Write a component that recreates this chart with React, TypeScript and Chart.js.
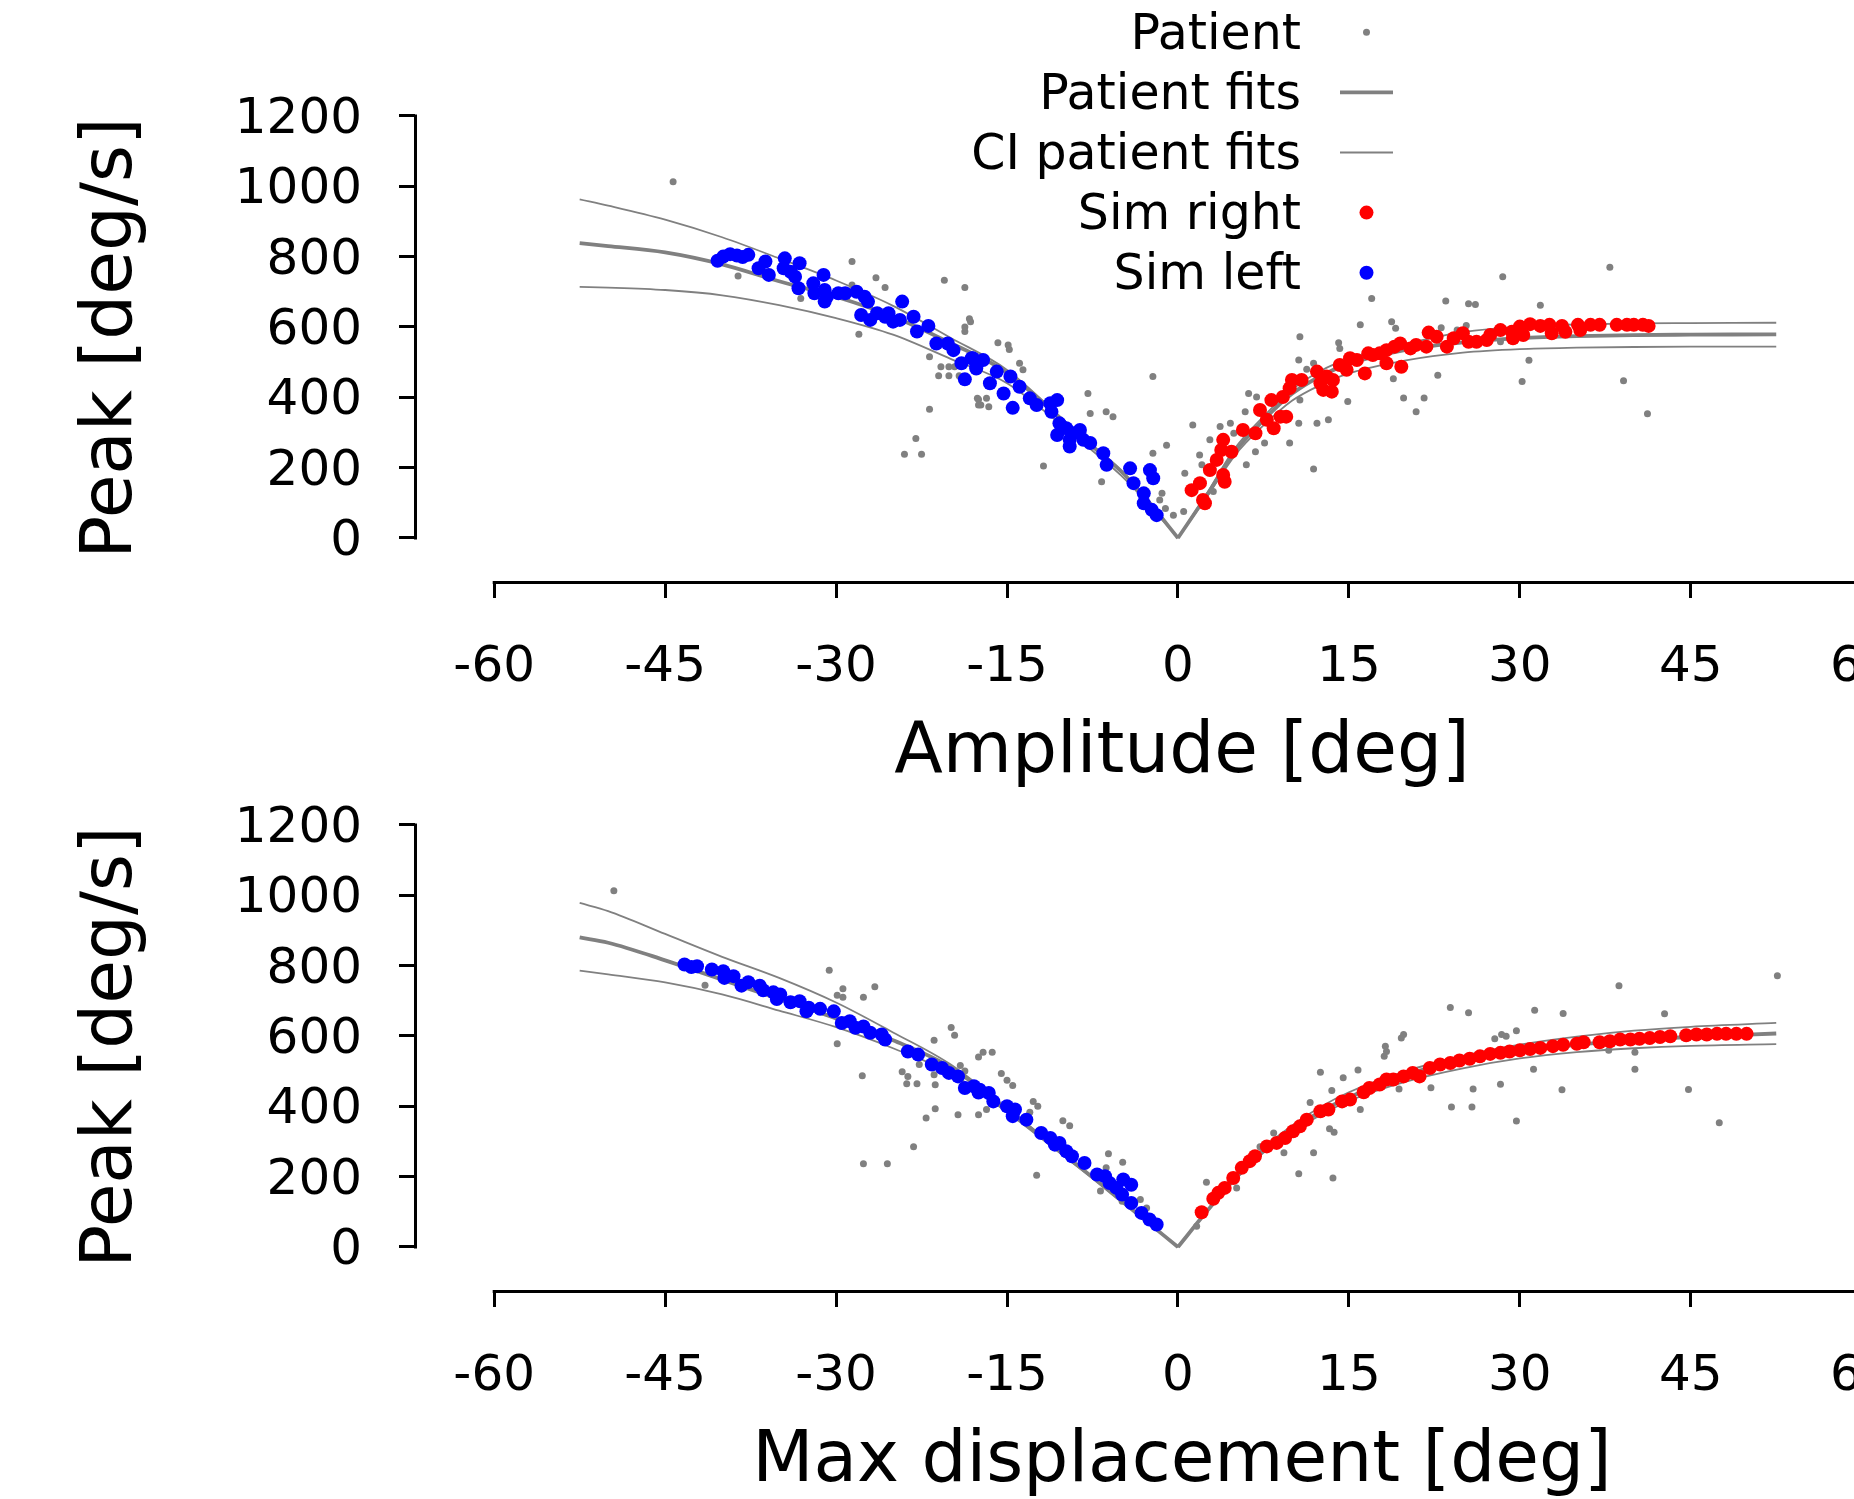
import React, { useEffect, useRef } from 'react';
import { Chart, registerables } from 'chart.js';

Chart.register(...registerables);

// ---------------- tick labels / axis text ----------------
const X_TICKS = [-60, -45, -30, -15, 0, 15, 30, 45, 60];
const Y_TICKS = [0, 200, 400, 600, 800, 1000, 1200];
const Y_TITLE = 'Peak [deg/s]';
const TOP_X_TITLE = 'Amplitude [deg]';
const BOTTOM_X_TITLE = 'Max displacement [deg]';
const LEGEND_LABELS = ['Patient', 'Patient fits', 'CI patient fits', 'Sim right', 'Sim left'];

// ---------------- fit curves ----------------
const FIT_X_LEFT = [-52.5, -50, -45, -40, -35, -30, -25, -20, -15, -10, -7.5, -5, -2.5, 0];
const FIT_X_RIGHT = [0, 2.5, 5, 7.5, 10, 12.5, 15, 20, 25, 30, 35, 40, 45, 52.5];

const AMP_FIT_LEFT = [838, 830, 812, 778, 730, 686, 630, 555, 470, 330, 260, 190, 100, 0];
const AMP_FIT_LEFT_UPPER = [963, 945, 905, 855, 795, 732, 660, 570, 478, 335, 262, 192, 100, 0];
const AMP_FIT_LEFT_LOWER = [714, 712, 705, 690, 662, 625, 578, 510, 440, 315, 248, 178, 93, 0];
const AMP_FIT_RIGHT = [0, 120, 245, 335, 410, 460, 495, 535, 556, 568, 574, 577, 578, 579];
const AMP_FIT_RIGHT_UPPER = [0, 125, 255, 345, 422, 475, 510, 552, 585, 601, 607, 610, 611, 612];
const AMP_FIT_RIGHT_LOWER = [0, 115, 235, 320, 390, 435, 468, 505, 527, 537, 541, 543, 544, 544];

const DISP_FIT_LEFT = [880, 865, 815, 760, 705, 650, 588, 512, 390, 262, 198, 132, 66, 0];
const DISP_FIT_LEFT_UPPER = [978, 955, 890, 825, 765, 695, 610, 520, 395, 265, 200, 133, 67, 0];
const DISP_FIT_LEFT_LOWER = [786, 775, 752, 718, 672, 625, 565, 495, 383, 258, 195, 130, 65, 0];
const DISP_FIT_RIGHT = [0, 100, 195, 275, 335, 385, 425, 490, 530, 556, 575, 588, 597, 607];
const DISP_FIT_RIGHT_UPPER = [0, 102, 200, 282, 345, 398, 440, 500, 543, 575, 598, 615, 626, 637];
const DISP_FIT_RIGHT_LOWER = [0, 98, 190, 268, 328, 375, 415, 470, 508, 536, 554, 565, 572, 577];

// ---------------- scatter series: [deg, deg/s] ----------------
const AMP_PATIENT = [
  [-44.3, 1013], [-38.6, 745], [-33.1, 681], [-28.6, 786], [-28.6, 719], [-28.0, 579], [-26.5, 740], [-25.7, 712],
  [-24.0, 238], [-23.0, 283], [-22.5, 238], [-21.8, 515], [-21.8, 366], [-21.0, 461], [-20.8, 487], [-20.5, 733],
  [-20.1, 487], [-20.1, 461], [-19.6, 487], [-19.2, 461], [-18.7, 712], [-18.7, 600], [-18.7, 587], [-18.3, 623],
  [-18.2, 615], [-17.6, 397], [-17.5, 394], [-17.5, 378], [-17.3, 378], [-16.8, 397], [-16.6, 373], [-15.8, 555],
  [-14.9, 549], [-14.8, 536], [-13.9, 497], [-13.6, 478], [-11.8, 205], [-7.9, 411], [-7.7, 354], [-6.7, 160],
  [-6.3, 359], [-5.7, 345], [-2.2, 459], [-2.2, 241], [-1.6, 108], [-1.4, 127], [-1.1, 84], [-1.0, 264],
  [-0.4, 65], [0.5, 75], [0.6, 184], [1.3, 321], [1.9, 236], [2.1, 208], [2.8, 279], [3.1, 132], [3.7, 317],
  [4.6, 326], [4.9, 298], [5.9, 359], [6.0, 208], [6.2, 411], [6.8, 245], [6.9, 401], [7.6, 270], [9.8, 270],
  [10.6, 326], [10.6, 506], [10.7, 392], [10.7, 572], [11.3, 480], [11.9, 497], [11.9, 196], [12.2, 326],
  [13.2, 336], [14.1, 555], [14.2, 539], [14.9, 388], [16.0, 606], [17.0, 681], [18.75, 615], [19.1, 596],
  [18.9, 453], [19.8, 398], [20.9, 359], [21.6, 398], [22.8, 463], [23.1, 598], [23.5, 674], [24.5, 591],
  [25.3, 604], [25.5, 666], [26.1, 664], [28.3, 558], [28.5, 743], [30.2, 445], [30.8, 505], [31.8, 662],
  [37.9, 770], [39.1, 447], [41.2, 353],
];

const AMP_SIM_LEFT = [
  [-40.4, 788], [-39.9, 800], [-39.3, 807], [-38.7, 803], [-38.2, 799], [-37.7, 805], [-36.8, 767], [-36.2, 786],
  [-35.9, 748], [-34.5, 795], [-34.6, 767], [-34.0, 757], [-33.2, 781], [-33.6, 743], [-33.3, 710], [-32.0, 724],
  [-31.9, 696], [-31.1, 748], [-31.0, 705], [-31.0, 672], [-30.8, 686], [-29.8, 696], [-29.2, 696], [-28.2, 700],
  [-27.5, 686], [-27.2, 672], [-27.8, 634], [-27.0, 620], [-26.4, 639], [-25.7, 629], [-25.4, 639], [-25.0, 615],
  [-24.4, 620], [-24.2, 672], [-23.2, 629], [-22.9, 587], [-21.9, 603], [-21.2, 553], [-20.2, 553], [-19.7, 534],
  [-19.0, 497], [-18.7, 451], [-18.1, 511], [-17.7, 487], [-18.0, 511], [-17.1, 506], [-17.7, 482], [-16.5, 440],
  [-15.9, 473], [-15.3, 411], [-14.7, 459], [-14.5, 370], [-13.9, 430], [-13.0, 397], [-12.4, 378], [-11.2, 383],
  [-10.6, 392], [-11.1, 359], [-10.4, 326], [-9.8, 312], [-9.2, 298], [-8.6, 307], [-9.5, 279], [-8.3, 279],
  [-7.7, 270], [-10.6, 293], [-9.5, 260], [-6.55, 241], [-6.26, 208], [-4.2, 198], [-3.9, 156], [-3.0, 127],
  [-2.46, 193], [-2.17, 170], [-3.0, 99], [-2.3, 80], [-1.87, 65],
];

const AMP_SIM_RIGHT = [
  [1.2, 136], [1.93, 156], [2.2, 108], [2.37, 99], [2.8, 193], [3.4, 222], [3.8, 250], [3.97, 279], [4.1, 160],
  [3.97, 179], [4.7, 245], [5.7, 307], [6.8, 298], [7.2, 364], [7.8, 336], [8.2, 392], [8.4, 312], [9.0, 345],
  [9.5, 345], [9.2, 401], [9.8, 426], [10.0, 449], [10.85, 449], [12.2, 473], [12.5, 440], [12.75, 421],
  [13.05, 459], [13.5, 416], [13.6, 449], [14.2, 492], [14.8, 478], [15.1, 511], [15.7, 506], [16.4, 468],
  [16.7, 525], [17.1, 520], [17.7, 525], [18.3, 497], [18.3, 534], [19.0, 544], [19.5, 553], [19.6, 487],
  [20.4, 539], [20.9, 549], [21.8, 544], [22.0, 584], [22.7, 572], [23.6, 544], [24.2, 568], [25.0, 582],
  [25.5, 558], [26.2, 558], [27.1, 563], [27.4, 577], [28.3, 591], [29.3, 586], [29.4, 568], [30.0, 601],
  [30.3, 577], [30.9, 608], [31.8, 603], [32.6, 606], [32.8, 582], [33.7, 603], [34.0, 586], [35.1, 606],
  [35.3, 591], [36.2, 606], [37.0, 606], [38.5, 606], [39.4, 606], [40.0, 606], [40.8, 606], [41.3, 603],
];

const DISP_PATIENT = [
  [-49.5, 1013], [-41.5, 744], [-30.6, 787], [-29.4, 734], [-29.9, 716], [-29.4, 710], [-26.6, 740], [-27.6, 710],
  [-29.9, 578], [-27.7, 487], [-19.9, 624], [-19.6, 602], [-21.4, 588], [-24.2, 498], [-23.7, 485], [-23.8, 464],
  [-22.9, 464], [-21.3, 461], [-22.7, 519], [-21.4, 490], [-19.1, 516], [-18.7, 500], [-17.5, 540], [-21.3, 393],
  [-22.1, 367], [-19.3, 376], [-17.5, 376], [-23.2, 285], [-27.6, 237], [-25.5, 237], [-17.1, 554], [-16.3, 554],
  [-15.5, 493], [-15.0, 474], [-14.5, 459], [-16.8, 391], [-12.7, 414], [-12.3, 400], [-13.0, 383], [-10.1, 359],
  [-9.5, 345], [-12.4, 204], [-6.1, 265], [-4.85, 241], [-6.3, 225], [-6.8, 159], [-4.9, 130], [-3.3, 135],
  [-2.75, 111], [1.64, 59], [2.5, 184], [5.15, 168], [7.2, 285], [8.4, 324], [9.3, 268], [11.6, 411], [11.9, 268],
  [12.5, 497], [13.5, 445], [14.5, 481], [15.8, 503], [13.3, 336], [13.7, 326], [16.0, 391], [10.6, 208],
  [13.6, 196], [18.2, 571], [18.3, 556], [18.1, 542], [19.8, 604], [19.6, 594], [19.4, 449], [22.2, 453],
  [23.9, 681], [25.5, 666], [24.0, 398], [25.8, 398], [25.9, 449], [27.8, 592], [28.4, 604], [28.8, 599],
  [29.7, 615], [28.3, 463], [29.7, 358], [31.2, 505], [31.3, 673], [33.7, 447], [33.8, 664], [37.8, 559],
  [38.7, 743], [40.1, 554], [40.1, 505], [42.7, 663], [44.8, 448], [47.5, 353], [52.6, 771],
];

const DISP_SIM_LEFT = [
  [-43.3, 803], [-42.7, 796], [-42.2, 798], [-40.9, 789], [-39.9, 784], [-39.8, 765], [-39.0, 770], [-38.3, 743],
  [-37.7, 753], [-36.7, 743], [-36.4, 730], [-35.5, 724], [-34.9, 718], [-35.2, 705], [-34.0, 696], [-33.2, 699],
  [-32.4, 680], [-32.6, 670], [-31.4, 677], [-30.2, 670], [-29.5, 637], [-28.8, 642], [-28.3, 623], [-27.6, 627],
  [-27.0, 609], [-26.0, 604], [-25.7, 590], [-23.7, 556], [-22.8, 547], [-21.6, 519], [-20.7, 509], [-20.1, 495],
  [-19.3, 485], [-18.7, 452], [-17.9, 457], [-17.5, 439], [-17.4, 447], [-16.6, 438], [-16.2, 414], [-15.0, 400],
  [-14.3, 391], [-14.5, 372], [-13.3, 362], [-12.0, 324], [-11.2, 310], [-10.8, 291], [-10.4, 296], [-9.8, 272],
  [-9.3, 258], [-8.2, 239], [-7.1, 206], [-6.4, 201], [-6.0, 182], [-5.4, 168], [-4.8, 192], [-4.1, 177],
  [-4.9, 149], [-4.1, 125], [-3.2, 97], [-2.5, 78], [-1.87, 64],
];

const DISP_SIM_RIGHT = [
  [2.08, 99], [3.1, 137], [3.54, 154], [4.1, 168], [4.85, 196], [5.6, 225], [6.3, 244], [6.76, 258], [7.8, 286],
  [8.66, 296], [9.4, 310], [10.1, 329], [10.7, 343], [11.3, 362], [12.5, 386], [13.2, 391], [14.4, 414],
  [15.1, 419], [16.3, 440], [16.8, 452], [17.7, 462], [18.3, 476], [18.9, 476], [19.8, 485], [20.6, 495],
  [21.2, 485], [22.1, 509], [23.0, 519], [23.9, 523], [24.7, 530], [25.6, 535], [26.5, 542], [27.4, 549],
  [28.3, 552], [29.1, 556], [30.0, 559], [30.9, 563], [31.8, 566], [32.9, 571], [33.8, 575], [35.0, 578],
  [35.6, 582], [37.0, 582], [37.9, 585], [38.8, 590], [39.7, 590], [40.5, 592], [41.4, 594], [42.3, 597],
  [43.2, 599], [44.6, 602], [45.5, 604], [46.4, 604], [47.3, 606], [48.1, 606], [49.0, 606], [49.9, 606],
];

// ---------------- styling / geometry ----------------
const FONT = "'DejaVu Sans', sans-serif";
const GRAY = '#808080';
const RED = '#ff0000';
const BLUE = '#0000ff';
const CANVAS_W = 1949;
const CANVAS_H = 796;
const AXIS_Y_PX = 582;
const Y_AXIS_W = 415;
const PANEL_OFFSET = 709;
const X_MIN = -66.95;
const X_MAX = 67.66;
const Y_MIN = -125.09;
const Y_MAX = 1262.26;

const pts = (arr: number[][]) => arr.map(([x, y]) => ({ x, y }));
const curve = (xs: number[], ys: number[]) => xs.map((x, i) => ({ x, y: ys[i] }));

function fitDataset(data: any[], width: number) {
  return {
    type: 'line',
    data,
    borderColor: GRAY,
    borderWidth: width,
    pointRadius: 0,
    fill: false,
    cubicInterpolationMode: 'monotone',
    order: 3,
  };
}

function buildDatasets(patient: number[][], simRight: number[][], simLeft: number[][], fits: number[][]) {
  const [fl, flu, fll, fr, fru, frl] = fits;
  return [
    { label: 'Sim left', data: pts(simLeft), backgroundColor: BLUE, pointRadius: 7, borderWidth: 0, order: 1 },
    { label: 'Sim right', data: pts(simRight), backgroundColor: RED, pointRadius: 7, borderWidth: 0, order: 2 },
    { label: 'Patient fits', ...fitDataset(curve(FIT_X_LEFT, fl), 3.8) },
    { label: 'Patient fits', ...fitDataset(curve(FIT_X_RIGHT, fr), 3.8) },
    { label: 'CI patient fits', ...fitDataset(curve(FIT_X_LEFT, flu), 1.8) },
    { label: 'CI patient fits', ...fitDataset(curve(FIT_X_LEFT, fll), 1.8) },
    { label: 'CI patient fits', ...fitDataset(curve(FIT_X_RIGHT, fru), 1.8) },
    { label: 'CI patient fits', ...fitDataset(curve(FIT_X_RIGHT, frl), 1.8) },
    { label: 'Patient', data: pts(patient), backgroundColor: GRAY, pointRadius: 3.5, borderWidth: 0, order: 4 },
  ];
}

const alignPx = (p: number, w: number) => Math.round(p - w / 2) + w / 2;

const spinePlugin = {
  id: 'offsetSpines',
  afterDraw(chart: any) {
    const { ctx, chartArea, scales } = chart;
    const x = scales.x;
    const y = scales.y;
    ctx.save();
    ctx.strokeStyle = '#000';
    ctx.lineWidth = 3;
    ctx.lineCap = 'butt';
    const sx = alignPx(chartArea.left, 3);
    ctx.beginPath();
    ctx.moveTo(sx, y.getPixelForValue(Y_TICKS[Y_TICKS.length - 1]) - 1.5);
    ctx.lineTo(sx, y.getPixelForValue(Y_TICKS[0]) + 1.5);
    ctx.stroke();
    const sy = alignPx(chartArea.bottom, 3);
    ctx.beginPath();
    ctx.moveTo(x.getPixelForValue(X_TICKS[0]) - 1.5, sy);
    ctx.lineTo(chartArea.right, sy);
    ctx.stroke();
    ctx.restore();
  },
};

const legendPlugin = {
  id: 'rightLegend',
  afterDraw(chart: any) {
    const ctx = chart.ctx;
    const textRight = 1301;
    const markX = 1366.5;
    const rowY0 = 35.8;
    const rowStep = 60.1;
    const markers = [
      { kind: 'dot', color: GRAY, r: 3.5 },
      { kind: 'line', color: GRAY, w: 3.8 },
      { kind: 'line', color: GRAY, w: 1.8 },
      { kind: 'dot', color: RED, r: 7 },
      { kind: 'dot', color: BLUE, r: 7 },
    ];
    ctx.save();
    ctx.font = `49px ${FONT}`;
    ctx.textAlign = 'right';
    ctx.textBaseline = 'middle';
    LEGEND_LABELS.forEach((label, i) => {
      const yy = rowY0 + i * rowStep;
      ctx.fillStyle = '#000';
      ctx.fillText(label, textRight, yy);
      const m: any = markers[i];
      const my = yy - 3.5;
      if (m.kind === 'dot') {
        ctx.fillStyle = m.color;
        ctx.beginPath();
        ctx.arc(markX, my, m.r, 0, Math.PI * 2);
        ctx.fill();
      } else {
        ctx.strokeStyle = m.color;
        ctx.lineWidth = m.w;
        ctx.beginPath();
        ctx.moveTo(markX - 26.5, my);
        ctx.lineTo(markX + 26.5, my);
        ctx.stroke();
      }
    });
    ctx.restore();
  },
};

function makeConfig(xTitle: string, datasets: any[], withLegend: boolean) {
  const tickFont = { family: FONT, size: 50 };
  const titleFont = { family: FONT, size: 71 };
  const grid = {
    display: true,
    drawOnChartArea: false,
    drawTicks: true,
    tickLength: 16,
    tickWidth: 3,
    tickColor: '#000',
  };
  return {
    type: 'scatter',
    data: { datasets },
    plugins: withLegend ? [spinePlugin, legendPlugin] : [spinePlugin],
    options: {
      responsive: false,
      maintainAspectRatio: false,
      animation: false,
      devicePixelRatio: 1,
      events: [],
      layout: { autoPadding: false, padding: { top: 94, left: 0, right: 0, bottom: 0 } },
      plugins: { legend: { display: false }, tooltip: { enabled: false } },
      scales: {
        x: {
          type: 'linear',
          position: 'bottom',
          min: X_MIN,
          max: X_MAX,
          bounds: 'data',
          afterBuildTicks: (s: any) => { s.ticks = X_TICKS.map((v) => ({ value: v })); },
          afterFit: (s: any) => { s.height = CANVAS_H - AXIS_Y_PX; },
          border: { display: false },
          grid,
          ticks: {
            color: '#000',
            font: tickFont,
            padding: 40,
            maxRotation: 0,
            minRotation: 0,
            autoSkip: false,
            callback: (v: any) => String(v),
          },
          title: { display: true, text: xTitle, color: '#000', font: titleFont, padding: { top: 0, bottom: 0 } },
        },
        y: {
          type: 'linear',
          position: 'left',
          min: Y_MIN,
          max: Y_MAX,
          bounds: 'data',
          afterBuildTicks: (s: any) => { s.ticks = Y_TICKS.map((v) => ({ value: v })); },
          afterFit: (s: any) => { s.width = Y_AXIS_W; },
          border: { display: false },
          grid,
          ticks: {
            color: '#000',
            font: tickFont,
            padding: 37,
            labelOffset: 4,
            autoSkip: false,
            callback: (v: any) => String(v),
          },
          title: { display: true, text: Y_TITLE, color: '#000', font: titleFont, padding: { top: 70, bottom: 0 } },
        },
      },
    },
  };
}

export default function App() {
  const topRef = useRef<HTMLCanvasElement>(null);
  const bottomRef = useRef<HTMLCanvasElement>(null);

  useEffect(() => {
    const top = new Chart(
      topRef.current as HTMLCanvasElement,
      makeConfig(
        TOP_X_TITLE,
        buildDatasets(AMP_PATIENT, AMP_SIM_RIGHT, AMP_SIM_LEFT, [
          AMP_FIT_LEFT, AMP_FIT_LEFT_UPPER, AMP_FIT_LEFT_LOWER,
          AMP_FIT_RIGHT, AMP_FIT_RIGHT_UPPER, AMP_FIT_RIGHT_LOWER,
        ]),
        true,
      ) as any,
    );
    const bottom = new Chart(
      bottomRef.current as HTMLCanvasElement,
      makeConfig(
        BOTTOM_X_TITLE,
        buildDatasets(DISP_PATIENT, DISP_SIM_RIGHT, DISP_SIM_LEFT, [
          DISP_FIT_LEFT, DISP_FIT_LEFT_UPPER, DISP_FIT_LEFT_LOWER,
          DISP_FIT_RIGHT, DISP_FIT_RIGHT_UPPER, DISP_FIT_RIGHT_LOWER,
        ]),
        false,
      ) as any,
    );
    return () => {
      top.destroy();
      bottom.destroy();
    };
  }, []);

  const canvasStyle = (topPx: number): React.CSSProperties => ({
    position: 'absolute',
    left: 0,
    top: topPx,
    width: CANVAS_W,
    height: CANVAS_H,
  });

  return (
    <div
      style={{
        position: 'absolute',
        left: 0,
        top: 0,
        width: 1854,
        height: 1499,
        overflow: 'hidden',
        background: '#ffffff',
      }}
    >
      <canvas ref={topRef} width={CANVAS_W} height={CANVAS_H} style={canvasStyle(0)} />
      <canvas ref={bottomRef} width={CANVAS_W} height={CANVAS_H} style={canvasStyle(PANEL_OFFSET)} />
    </div>
  );
}
